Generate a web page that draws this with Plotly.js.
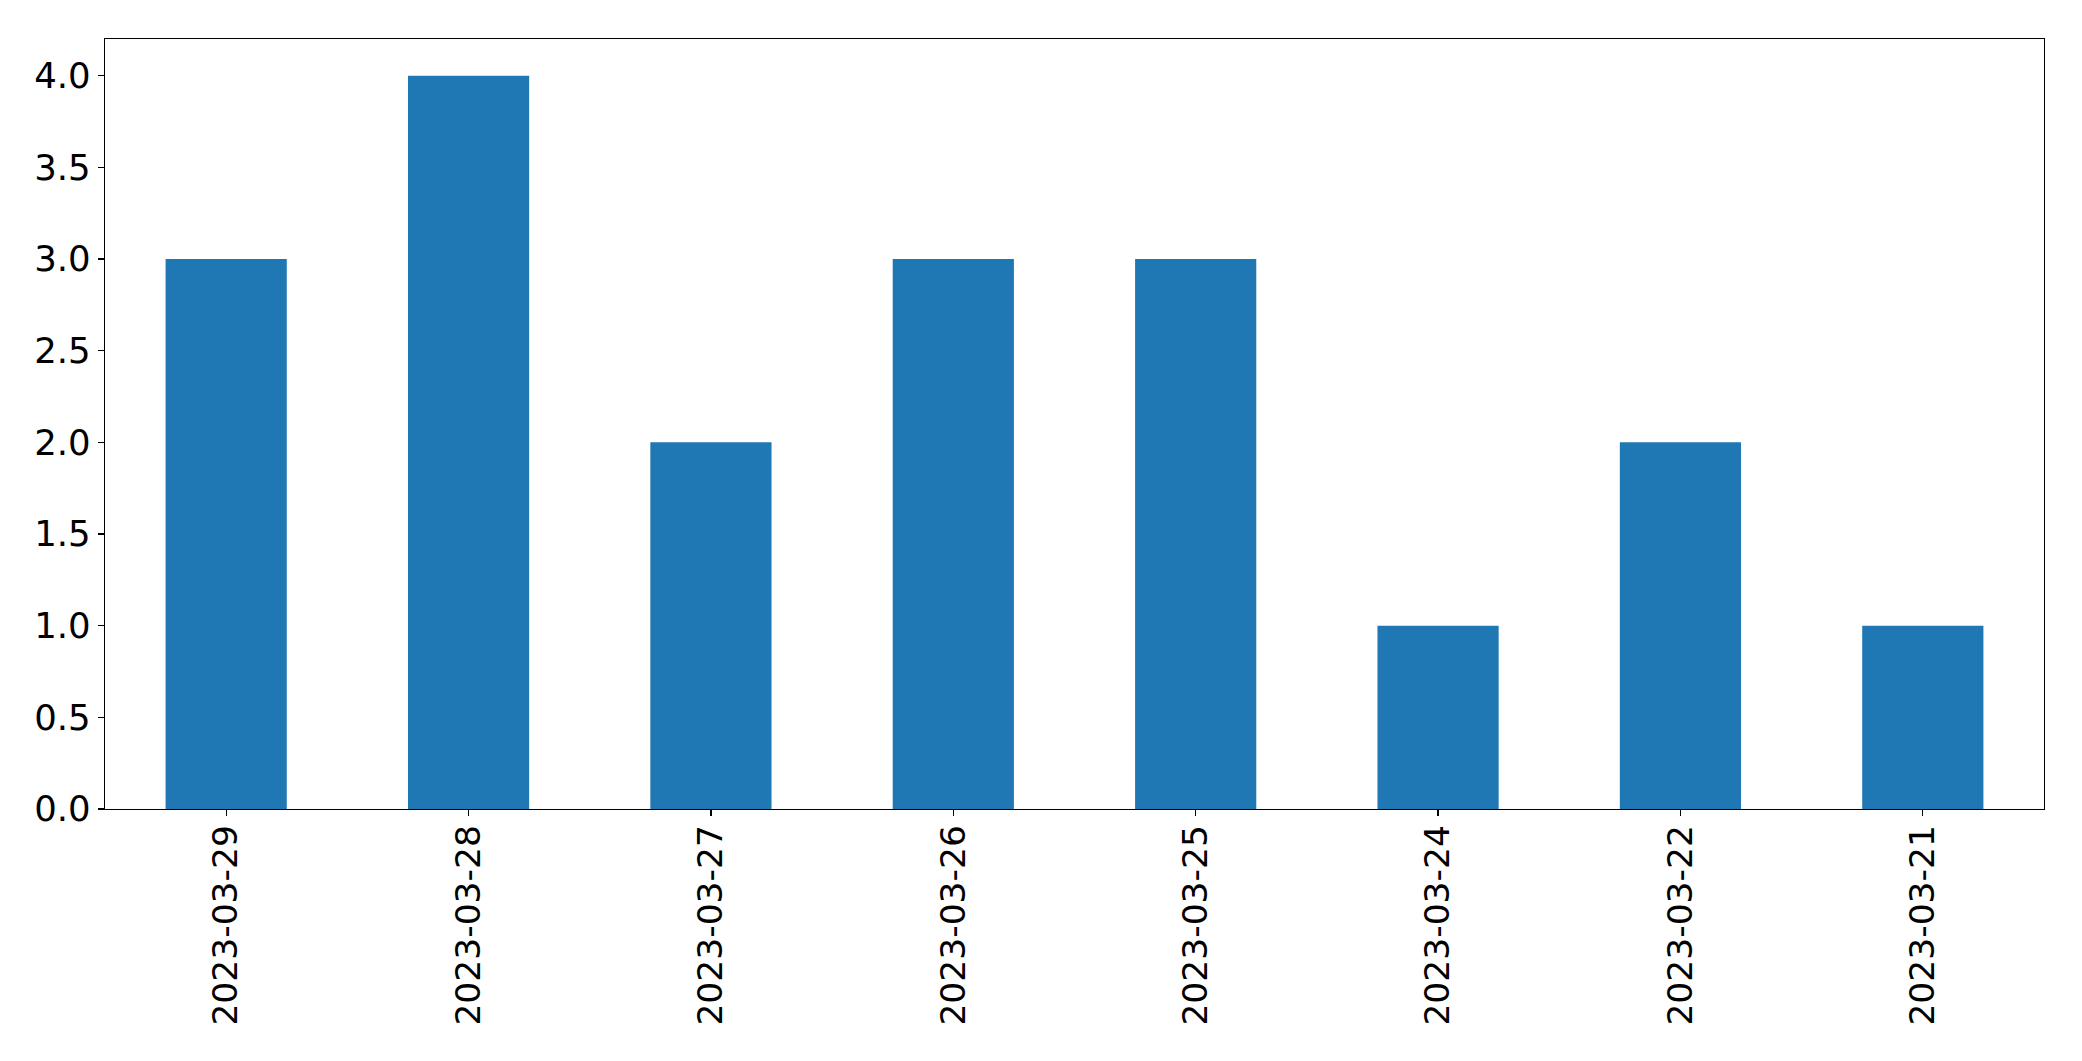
<!DOCTYPE html>
<html>
<head>
<meta charset="utf-8">
<script src="https://cdn.plot.ly/plotly-3.0.1.min.js"></script>
<style>html,body{margin:0;padding:0;background:#fff;}#chart{width:2082px;height:1061px;}</style>
</head>
<body>
<div id="chart"></div>
<script>
const categories = ["2023-03-29","2023-03-28","2023-03-27","2023-03-26","2023-03-25","2023-03-24","2023-03-22","2023-03-21"];
const counts = [3, 4, 2, 3, 3, 1, 2, 1];
const yTickVals = [0, 0.5, 1, 1.5, 2, 2.5, 3, 3.5, 4];
const yTickText = ["0.0","0.5","1.0","1.5","2.0","2.5","3.0","3.5","4.0"];

const trace = {
  type: 'bar',
  x: categories,
  y: counts,
  marker: {color: '#1f77b4', line: {width: 0}},
  hoverinfo: 'x+y'
};

const layout = {
  width: 2082,
  height: 1061,
  margin: {l: 105, r: 38, t: 39, b: 252, pad: 0},
  paper_bgcolor: '#ffffff',
  plot_bgcolor: '#ffffff',
  font: {family: 'DejaVu Sans', size: 34.5, color: '#000000'},
  showlegend: false,
  bargap: 0.5,
  xaxis: {
    type: 'category',
    range: [-0.5, 7.5],
    tickangle: -90,
    ticks: 'outside',
    ticklen: 6,
    tickwidth: 1.2,
    tickcolor: '#000',
    ticklabelstandoff: -5,
    showline: true,
    mirror: true,
    linecolor: '#000',
    linewidth: 1.3,
    showgrid: false,
    zeroline: false,
    tickfont: {family: 'DejaVu Sans', size: 34.5, color: '#000'}
  },
  yaxis: {
    range: [0, 4.2],
    tickvals: yTickVals,
    ticktext: yTickText,
    ticks: 'outside',
    ticklen: 6,
    tickwidth: 1.2,
    tickcolor: '#000',
    showline: true,
    mirror: true,
    linecolor: '#000',
    linewidth: 1.3,
    showgrid: false,
    zeroline: false,
    tickfont: {family: 'DejaVu Sans', size: 35.5, color: '#000'}
  }
};

Plotly.newPlot('chart', [trace], layout, {displayModeBar: false, staticPlot: true});
</script>
</body>
</html>
